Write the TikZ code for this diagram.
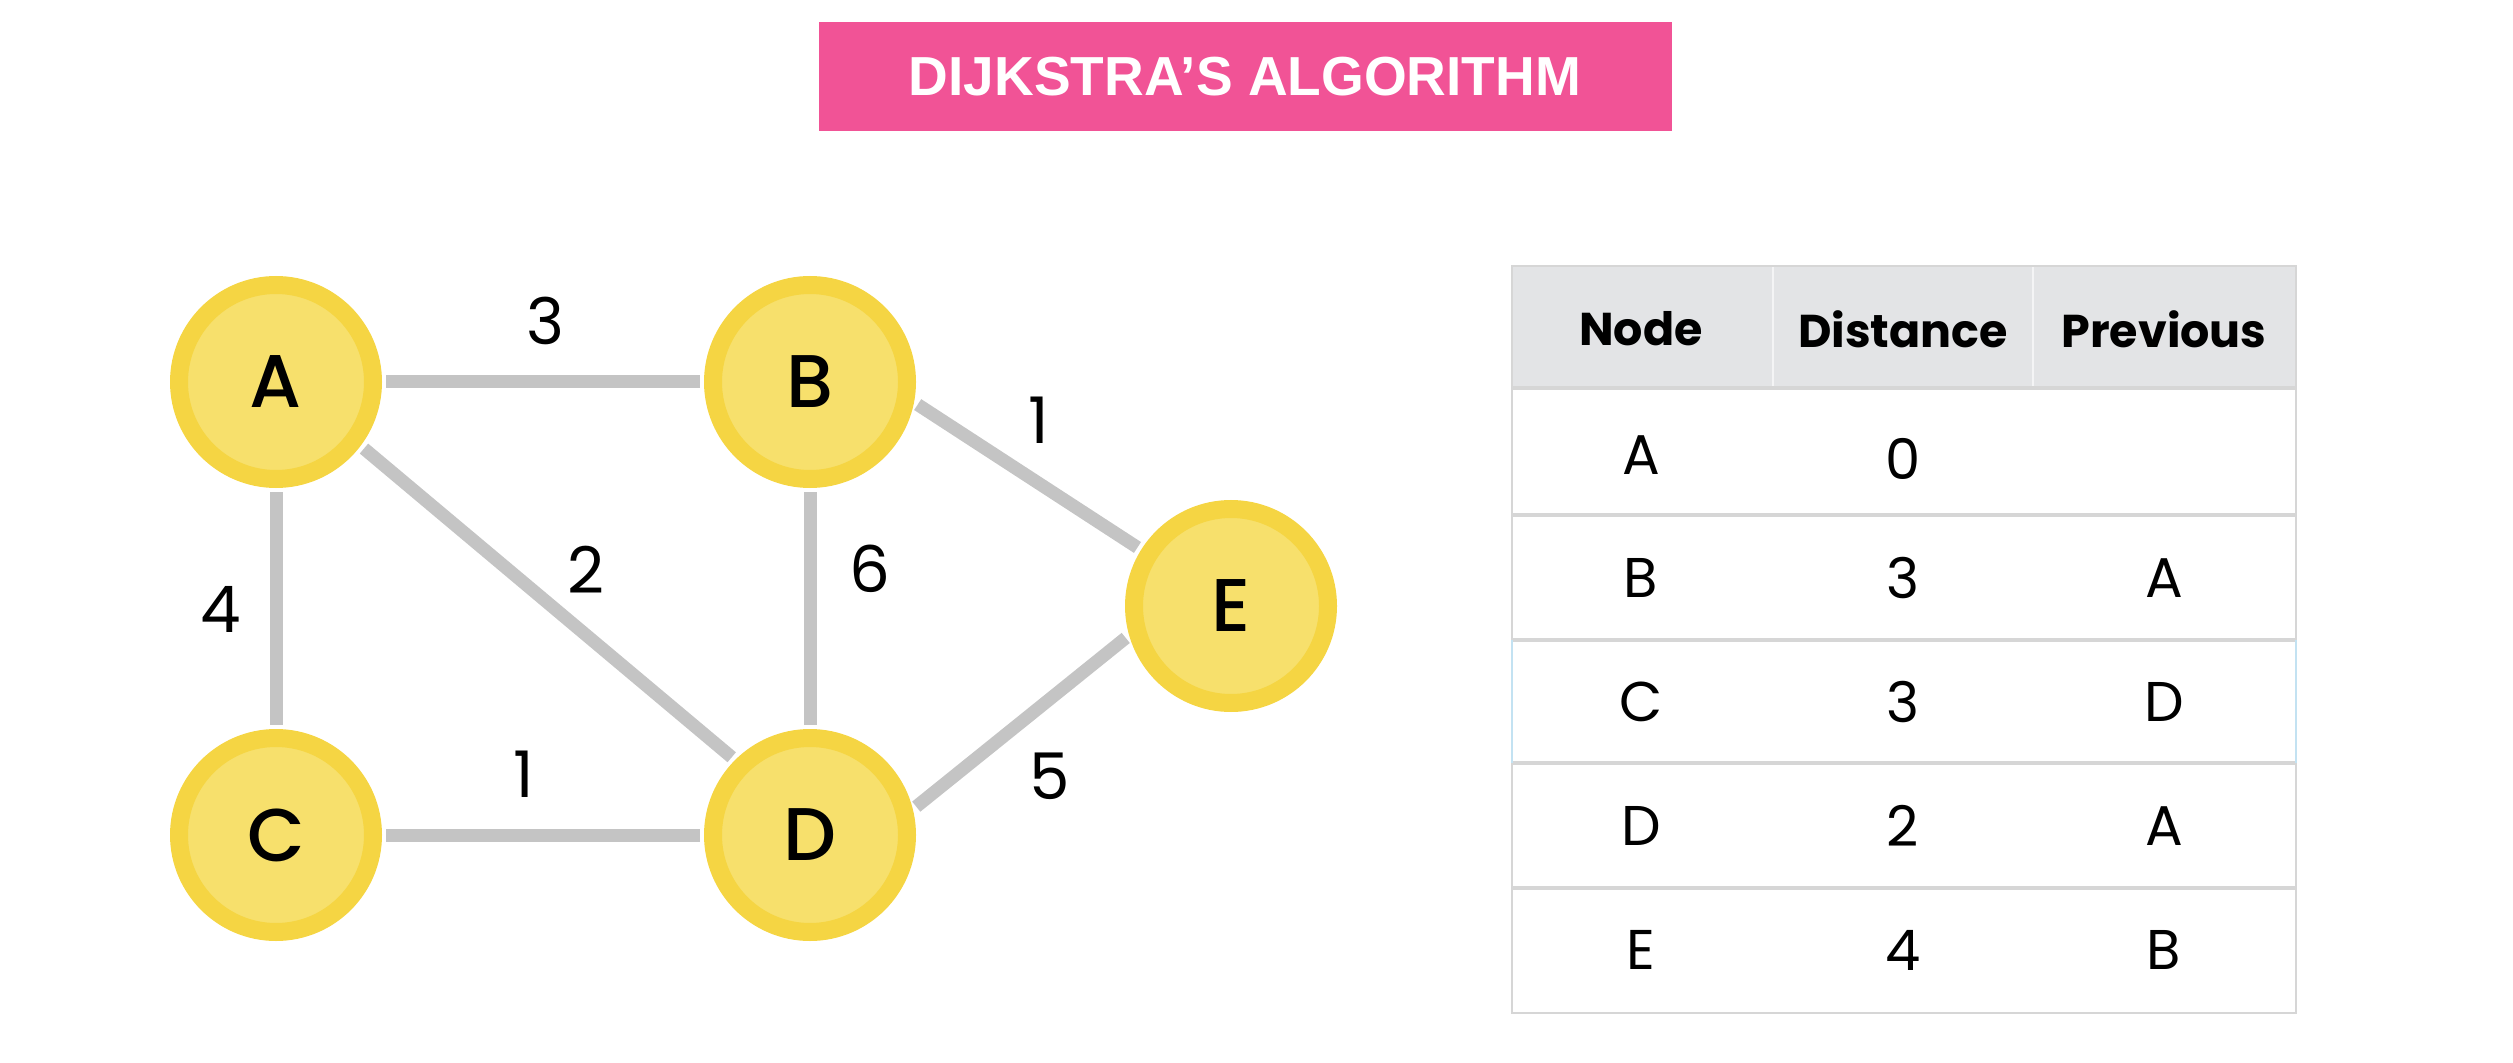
\documentclass[tikz,border=0pt]{standalone}
\usepackage{fontspec}
\setmainfont{Poppins}
\IfFontExistsTF{Poppins Medium}{\newfontfamily\popmed{Poppins Medium}}{\newfontfamily\popmed{Poppins}}
\newfontfamily\titlefont{Liberation Sans}
\definecolor{ringY}{HTML}{F5D543}
\definecolor{fillY}{HTML}{F7E06C}
\definecolor{edgeG}{HTML}{C4C4C4}
\definecolor{titleP}{HTML}{F15396}
\definecolor{headG}{HTML}{E3E4E6}
\definecolor{lineG}{HTML}{D6D6D6}
\definecolor{selB}{HTML}{C3E2F2}
\tikzset{
  vert/.style={circle, fill=fillY, draw=ringY, line width=5.4pt, minimum size=58.2pt, inner sep=0pt,
    font=\popmed\fontsize{22.4}{24}\selectfont},
  edge/.style={draw=edgeG, line width=3.9pt, shorten <=1.3pt, shorten >=1.3pt},
  wlab/.style={font=\fontsize{19.3}{21}\selectfont, inner sep=0pt},
  headcell/.style={font=\bfseries\fontsize{13.8}{15}\selectfont, inner sep=0pt},
  bodycell/.style={font=\fontsize{16.8}{18}\selectfont, inner sep=0pt},
}
\begin{document}
\begin{tikzpicture}[x=0.3pt, y=-0.3pt]
\useasboundingbox (0,0) rectangle (2513,1063);
% title
\fill[titleP] (819,22) rectangle (1672,131);
\node[font=\titlefont\bfseries\fontsize{16.5}{18}\selectfont, text=white, inner sep=0pt] (title) at (1245,77) {DIJKSTRA’S ALGORITHM};
% vertices
\node[vert] (A) at (276,382) {A};
\node[vert] (B) at (810,382) {B};
\node[vert] (C) at (276,835) {C};
\node[vert] (D) at (810,835) {D};
\node[vert] (E) at (1231,606) {E};
% edges
\draw[edge] (A) -- (B);
\draw[edge] (A) -- (C);
\draw[edge] (A.-37) -- (D.135);
\draw[edge] (B) -- (D);
\draw[edge] (B.-11) -- (E.148);
\draw[edge] (C) -- (D);
\draw[edge] (D.14.5) -- (E.196);
% weights
\node[wlab] (wAB) at (545,321) {3};
\node[wlab] (wBE) at (1039,420) {1};
\node[wlab] (wAD) at (586,570) {2};
\node[wlab] (wBD) at (870,569) {6};
\node[wlab] (wAC) at (221,609) {4};
\node[wlab] (wCD) at (524,774) {1};
\node[wlab] (wDE) at (1050,776) {5};
% table
\fill[headG] (1512,266) rectangle (2296,388);
\draw[white!60!headG, line width=0.6pt] (1773,266) -- (1773,388) (2033,266) -- (2033,388);
\foreach \yy in {388,515,640,763,888} \draw[lineG, line width=1pt] (1512,\yy) -- (2296,\yy);
\draw[lineG, line width=0.8pt] (1512,266) rectangle (2296,1013);
\draw[selB, line width=0.8pt] (1512,640) -- (1512,763) (2296,640) -- (2296,763);
\node[headcell] (h1) at (1641,329) {Node};
\node[headcell] (h2) at (1903,329) {Distance};
\node[headcell] (h3) at (2164,329) {Previous};
\node[bodycell] (a1) at (1641,455) {A};
\node[bodycell] (a2) at (1903,459) {0};
\node[bodycell] (b1) at (1641,578) {B};
\node[bodycell] (b2) at (1903,578) {3};
\node[bodycell] (b3) at (2164,578) {A};
\node[bodycell] (c1) at (1641,702) {C};
\node[bodycell] (c2) at (1903,702) {3};
\node[bodycell] (c3) at (2164,702) {D};
\node[bodycell] (d1) at (1641,826) {D};
\node[bodycell] (d2) at (1903,826) {2};
\node[bodycell] (d3) at (2164,826) {A};
\node[bodycell] (e1) at (1641,950) {E};
\node[bodycell] (e2) at (1903,950) {4};
\node[bodycell] (e3) at (2164,950) {B};
\end{tikzpicture}
\end{document}
